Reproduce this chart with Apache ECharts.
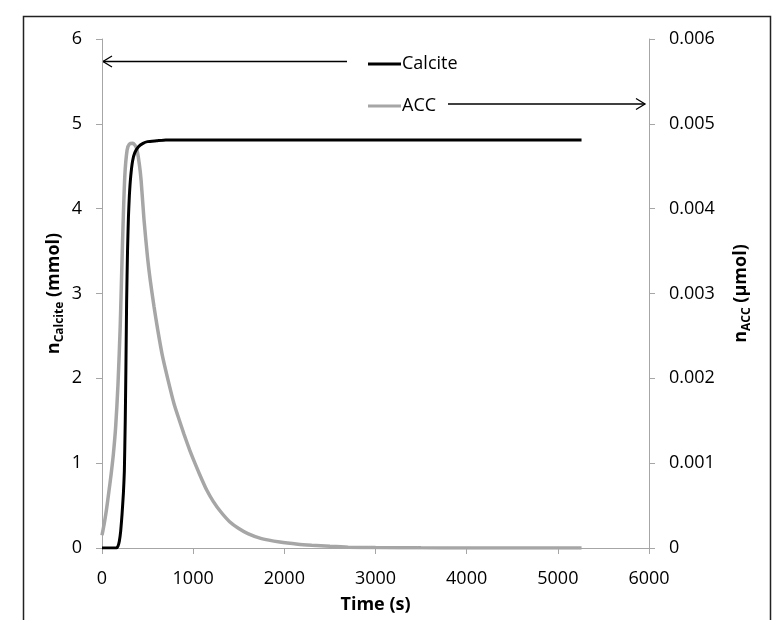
<!DOCTYPE html>
<html>
<head>
<meta charset="utf-8">
<script src="https://cdn.jsdelivr.net/npm/echarts@6/dist/echarts.min.js"></script>
<style>
html,body{margin:0;padding:0;background:#fff;}
#chart{width:782px;height:620px;}
</style>
</head>
<body>
<div id="chart"></div>
<script>
// Calcite amount (mmol) vs time (s)
var calciteTime   = [0, 100, 160, 175, 190, 205, 220, 235, 245, 255, 262, 270, 280, 290, 300, 315, 335, 360, 400, 450, 500, 600, 700, 1000, 2000, 3000, 4000, 5260];
var calciteValues = [0, 0, 0, 0.02, 0.08, 0.2, 0.4, 0.65, 0.9, 1.5, 2.1, 2.9, 3.5, 3.9, 4.15, 4.38, 4.56, 4.66, 4.73, 4.77, 4.79, 4.80, 4.81, 4.81, 4.81, 4.81, 4.81, 4.81];

// ACC amount (µmol) vs time (s)
var accTime   = [0, 25, 50, 75, 100, 125, 150, 175, 200, 225, 250, 275, 300, 340, 380, 410, 430, 460, 500, 530, 570, 610, 660, 720, 790, 850, 900, 960, 1000, 1070, 1150, 1220, 1300, 1400, 1500, 1600, 1750, 1950, 2150, 2300, 2500, 2700, 3000, 3500, 4000, 4500, 5260];
var accValues = [0.00015, 0.00029, 0.00046, 0.00066, 0.00087, 0.00111, 0.00143, 0.00192, 0.00262, 0.00360, 0.00438, 0.00469, 0.00476, 0.00477, 0.00471, 0.00452, 0.00432, 0.00388, 0.00342, 0.00315, 0.00285, 0.00258, 0.00228, 0.00200, 0.00170, 0.00150, 0.00134, 0.00116, 0.00105, 0.00087, 0.00068, 0.00055, 0.00043, 0.00031, 0.00023, 0.00017, 0.00011, 0.00007, 0.000045, 0.000033, 0.00002, 0.00001, 0.000005, 0.000002, 0.000001, 0, 0];

var seriesNames = ['Calcite', 'ACC'];
var xTicks = {min: 0, max: 6000, interval: 1000};
var yLeftTicks = {min: 0, max: 6, interval: 1};
var yRightTicks = {min: 0, max: 0.006, interval: 0.001};

function pairs(t, v) { return t.map(function (x, i) { return [x, v[i]]; }); }

var FONT = 'Open Sans';
var axisGray = '#a6a6a6';

var chart = echarts.init(document.getElementById('chart'), null, {renderer: 'canvas'});
chart.setOption({
  backgroundColor: '#fff',
  animation: false,
  textStyle: {fontFamily: FONT},
  grid: {left: 102, right: 133, top: 39, bottom: 72},
  legend: {
    data: seriesNames,
    orient: 'vertical',
    icon: 'rect',
    left: 363, top: 49,
    itemWidth: 33, itemHeight: 3, itemGap: 22,
    textStyle: {fontFamily: FONT, fontSize: 18, lineHeight: 20, color: '#000', padding: [0, 0, 0, -4]}
  },
  xAxis: {
    type: 'value', min: xTicks.min, max: xTicks.max, interval: xTicks.interval,
    name: 'Time (s)', nameLocation: 'middle', nameGap: 48, nameMoveOverlap: false,
    nameTextStyle: {fontFamily: FONT, fontSize: 18, fontWeight: 'bold', color: '#000'},
    axisLine: {show: true, onZero: false, lineStyle: {color: axisGray, width: 1}},
    axisTick: {show: true, inside: false, length: 6, lineStyle: {color: axisGray}},
    axisLabel: {fontFamily: FONT, fontSize: 18, color: '#000', margin: 22, formatter: function (v) { return String(v); }},
    splitLine: {show: false}
  },
  yAxis: [{
    type: 'value', position: 'left', min: yLeftTicks.min, max: yLeftTicks.max, interval: yLeftTicks.interval,
    name: '{n|n}{s|Calcite}{n| (mmol)}', nameLocation: 'middle', nameRotate: 90, nameGap: 36, nameMoveOverlap: false,
    nameTextStyle: {
      rich: {
        n: {fontFamily: FONT, fontSize: 18, fontWeight: 'bold', color: '#000', lineHeight: 24, verticalAlign: 'middle'},
        s: {fontFamily: FONT, fontSize: 12, fontWeight: 'bold', color: '#000', lineHeight: 12, verticalAlign: 'bottom'}
      }
    },
    axisLine: {show: true, onZero: false, lineStyle: {color: axisGray, width: 1}},
    axisTick: {show: true, inside: false, length: 6, lineStyle: {color: axisGray}},
    axisLabel: {fontFamily: FONT, fontSize: 18, color: '#000', margin: 20},
    splitLine: {show: false}
  }, {
    type: 'value', position: 'right', min: yRightTicks.min, max: yRightTicks.max, interval: yRightTicks.interval,
    name: '{n|n}{s|ACC}{n| (µmol)}', nameLocation: 'middle', nameRotate: 90, nameGap: 80, nameMoveOverlap: false,
    nameTextStyle: {
      rich: {
        n: {fontFamily: FONT, fontSize: 18, fontWeight: 'bold', color: '#000', lineHeight: 24, verticalAlign: 'middle'},
        s: {fontFamily: FONT, fontSize: 12, fontWeight: 'bold', color: '#000', lineHeight: 12, verticalAlign: 'bottom'}
      }
    },
    axisLine: {show: true, onZero: false, lineStyle: {color: axisGray, width: 1}},
    axisTick: {show: true, inside: false, length: 6, lineStyle: {color: axisGray}},
    axisLabel: {
      fontFamily: FONT, fontSize: 18, color: '#000', margin: 20,
      formatter: function (v) { return v === 0 ? '0' : v.toFixed(3); }
    },
    splitLine: {show: false}
  }],
  series: [{
    name: 'Calcite', type: 'line', yAxisIndex: 0, z: 3,
    data: pairs(calciteTime, calciteValues),
    symbol: 'none', smooth: 0.15,
    lineStyle: {color: '#000', width: 3},
    itemStyle: {color: '#000'}
  }, {
    name: 'ACC', type: 'line', yAxisIndex: 1, z: 2,
    data: pairs(accTime, accValues),
    symbol: 'none', smooth: 0.25,
    lineStyle: {color: '#a6a6a6', width: 3.5},
    itemStyle: {color: '#a6a6a6'}
  }],
  graphic: [
    {type: 'rect', shape: {x: 23.5, y: 16.5, width: 747, height: 620}, style: {fill: 'none', stroke: '#222', lineWidth: 1.5}, silent: true},
    {type: 'line', shape: {x1: 347, y1: 61.5, x2: 103, y2: 61.5}, style: {stroke: '#000', lineWidth: 1.3}},
    {type: 'polyline', shape: {points: [[112, 56], [103, 61.5], [112, 67]]}, style: {stroke: '#000', lineWidth: 1.3, fill: 'none'}},
    {type: 'line', shape: {x1: 448, y1: 104, x2: 645, y2: 104}, style: {stroke: '#000', lineWidth: 1.3}},
    {type: 'polyline', shape: {points: [[636, 98.5], [645, 104], [636, 109.5]]}, style: {stroke: '#000', lineWidth: 1.3, fill: 'none'}}
  ]
});
</script>
</body>
</html>
